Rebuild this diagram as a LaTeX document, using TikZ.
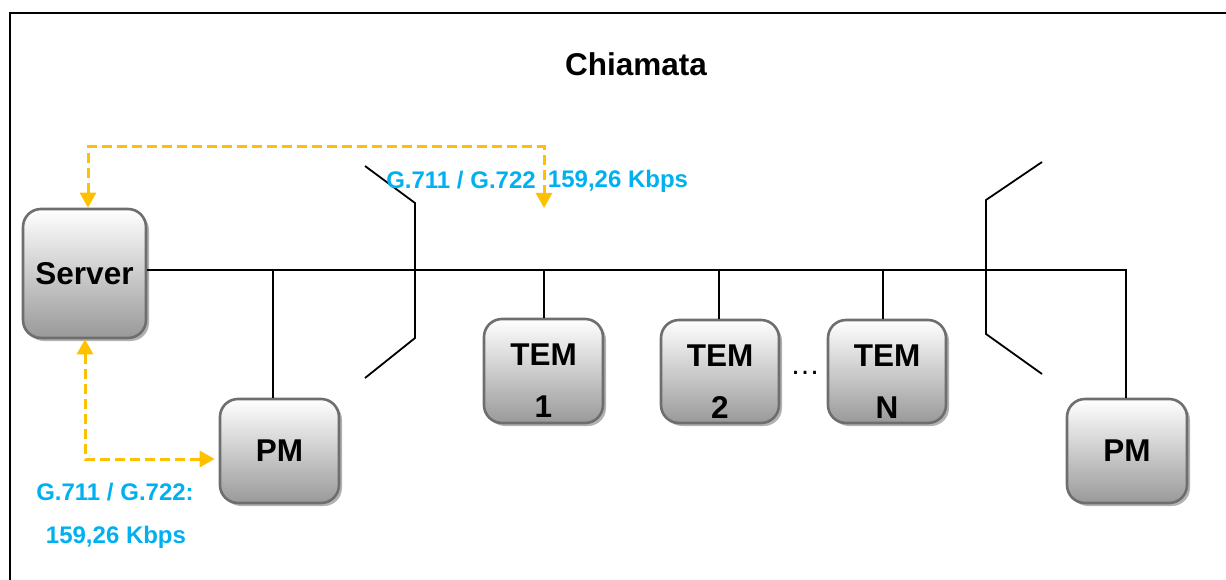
\documentclass[tikz,border=0pt]{standalone}
\usepackage{fontspec}
\setmainfont{Liberation Sans}
\usetikzlibrary{arrows.meta,shadows}
\definecolor{linkblue}{HTML}{00B0F0}
\definecolor{flowgold}{HTML}{FFC000}
\definecolor{boxedge}{HTML}{6E6E6E}
\begin{document}
\begin{tikzpicture}[x=1pt,y=-1pt,
  device/.style={rectangle, rounded corners=18pt, draw=boxedge, line width=2.6pt,
    top color=white, bottom color=black!40,
    drop shadow={shadow xshift=3pt, shadow yshift=-3pt, fill=black!30, opacity=1},
    font=\fontsize{31.5}{36}\selectfont\bfseries, inner sep=0pt},
  devtext/.style={font=\fontsize{31.5}{52}\selectfont\bfseries, align=center, inner sep=0pt},
  rate/.style={text=linkblue, font=\fontsize{24}{28}\selectfont\bfseries, inner sep=0pt},
  wire/.style={line width=1.8pt, line join=miter},
  flow/.style={draw=flowgold, line width=3pt, dash pattern=on 10pt off 5pt,
    {Triangle[width=16pt,length=15pt]}-{Triangle[width=16pt,length=15pt]}},
]
\useasboundingbox (0,0) rectangle (1226,580);

% outer frame (top and left edges)
\draw[line width=2pt] (10,580) -- (10,13) -- (1226,13);

% title
\node[font=\fontsize{31.5}{36}\selectfont\bfseries] (title) at (636,64) {Chiamata};

% devices
\node[device, minimum width=123pt, minimum height=129pt] (server) at (84.5,273.5) {Server};
\node[device, minimum width=119pt, minimum height=104pt] (pml) at (279.5,451) {PM};
\node[device, minimum width=119pt, minimum height=104pt] (tem1) at (543.5,371) {};
\node[device, minimum width=118pt, minimum height=103pt] (tem2) at (720,371.5) {};
\node[device, minimum width=118pt, minimum height=103pt] (temn) at (887,371.5) {};
\node[device, minimum width=120pt, minimum height=104pt] (pmr) at (1127,451) {PM};

\node[devtext] (t1) at ([yshift=-10pt]tem1.center) {TEM\\1};
\node[devtext] (t2) at ([yshift=-10pt]tem2.center) {TEM\\2};
\node[devtext] (tn) at ([yshift=-10pt]temn.center) {TEM\\N};
\node[font=\fontsize{30}{34}\selectfont, inner sep=0pt] (dots) at (805,373) {…};

% bus
\coordinate (busR) at (1126,270);
\draw[wire] (server.east |- busR) -- (busR) -- (busR |- pmr.north);
\draw[wire] ([xshift=-6.5pt]pml.north) -- ([xshift=-6.5pt]pml.north |- busR);
\draw[wire] ([xshift=0.5pt]tem1.north) -- ([xshift=0.5pt]tem1.north |- busR);
\draw[wire] ([xshift=-1pt]tem2.north) -- ([xshift=-1pt]tem2.north |- busR);
\draw[wire] ([xshift=-4pt]temn.north) -- ([xshift=-4pt]temn.north |- busR);

% network boundaries
\draw[wire] (365,166) -- (415,203) -- (415,338) -- (365,378);
\draw[wire] (1042,162) -- (986,200) -- (986,334) -- (1042,374);

% media flows
\coordinate (flowTop) at (544,147);
\coordinate (flowTip) at (544,208);
\draw[flow] ([xshift=3.5pt]server.north) |- (flowTop) -- (flowTip);
\draw[flow, shorten >=4pt] ([xshift=0.5pt]server.south) |- ([yshift=-8pt]pml.west);

% rate labels
\node[rate] (r1a) at (461,180) {G.711 / G.722};
\node[rate] (r1b) at (618,181) {159,26 Kbps};
\node[rate] (r2a) at (115,492) {G.711 / G.722:};
\node[rate] (r2b) at (116,537) {159,26 Kbps};
\end{tikzpicture}
\end{document}
